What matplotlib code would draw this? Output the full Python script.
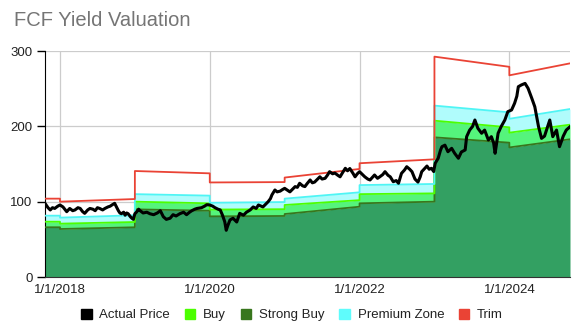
import matplotlib.pyplot as plt
from matplotlib.patches import Patch

plt.rcParams['font.family'] = ['Liberation Sans', 'DejaVu Sans']

# valuation bands, one segment per year (start value, end value)
edges = [2017.8, 2018.0, 2019.0, 2020.0, 2021.0, 2022.0, 2023.0, 2024.0, 2024.81]
trim_start = [104, 100, 140.7, 125.5, 132, 151, 292.5, 267.7]
trim_end = [104, 103.5, 137.6, 126, 143.4, 156.2, 279, 283.6]
premium_start = [81.4, 78.8, 110, 98.5, 104, 122, 227.5, 210]
premium_end = [81.4, 82, 108, 99.5, 112.4, 123.5, 218.6, 223]
buy_start = [73.4, 70.8, 100, 89.5, 95.6, 110, 207.5, 191.6]
buy_end = [73.4, 73, 97.8, 90, 102, 111, 198.7, 202.2]
strong_start = [66, 63.7, 89.8, 80.5, 83.6, 97.8, 185.4, 172]
strong_end = [66, 66, 88, 81, 93.3, 100, 178.3, 182.8]

# actual price (decimal year, price)
price_t = [2017.80, 2017.84, 2017.87, 2017.90, 2017.93, 2017.97, 2018.00, 2018.04, 2018.09,
           2018.13, 2018.17, 2018.20, 2018.24, 2018.27, 2018.30, 2018.33, 2018.37, 2018.40,
           2018.44, 2018.47, 2018.50, 2018.53, 2018.57, 2018.60, 2018.64, 2018.67, 2018.70,
           2018.73, 2018.76, 2018.78, 2018.80, 2018.82, 2018.85, 2018.87, 2018.89, 2018.91,
           2018.94, 2018.96, 2018.98, 2019.00, 2019.02, 2019.05, 2019.07, 2019.11, 2019.16,
           2019.20, 2019.25, 2019.30, 2019.34, 2019.38, 2019.42, 2019.47, 2019.51, 2019.55,
           2019.60, 2019.65, 2019.69, 2019.73, 2019.76, 2019.80, 2019.83, 2019.89, 2019.93,
           2019.96, 2020.00, 2020.04, 2020.07, 2020.11, 2020.14, 2020.17, 2020.20, 2020.22,
           2020.24, 2020.27, 2020.31, 2020.36, 2020.40, 2020.45, 2020.49, 2020.54, 2020.58,
           2020.62, 2020.65, 2020.71, 2020.75, 2020.78, 2020.81, 2020.83, 2020.87, 2020.90,
           2020.94, 2020.97, 2021.00, 2021.04, 2021.07, 2021.11, 2021.14, 2021.17, 2021.20,
           2021.24, 2021.27, 2021.30, 2021.34, 2021.37, 2021.40, 2021.44, 2021.47, 2021.50,
           2021.54, 2021.57, 2021.60, 2021.64, 2021.67, 2021.71, 2021.74, 2021.77, 2021.81,
           2021.84, 2021.87, 2021.91, 2021.94, 2021.97, 2022.00, 2022.04, 2022.07, 2022.11,
           2022.14, 2022.17, 2022.20, 2022.24, 2022.27, 2022.31, 2022.34, 2022.38, 2022.41,
           2022.45, 2022.49, 2022.52, 2022.56, 2022.60, 2022.63, 2022.67, 2022.70, 2022.74,
           2022.78, 2022.81, 2022.83, 2022.87, 2022.90, 2022.93, 2022.96, 2022.99, 2023.01,
           2023.05, 2023.08, 2023.10, 2023.14, 2023.18, 2023.23, 2023.27, 2023.32, 2023.36,
           2023.41, 2023.43, 2023.47, 2023.51, 2023.54, 2023.58, 2023.63, 2023.67, 2023.72,
           2023.76, 2023.79, 2023.81, 2023.85, 2023.89, 2023.94, 2023.98, 2024.03, 2024.07,
           2024.10, 2024.12, 2024.16, 2024.21, 2024.25, 2024.30, 2024.34, 2024.39, 2024.43,
           2024.47, 2024.50, 2024.54, 2024.58, 2024.63, 2024.67, 2024.72, 2024.76, 2024.81]
price_v = [97.8, 92, 89, 92, 91, 94, 95.6, 93, 86.7,
           91, 88, 89, 92, 91, 87, 84.5, 89, 91,
           90, 88, 92, 91, 89, 91, 93, 94, 96,
           97.8, 92, 88, 85, 84, 86, 82, 85, 84,
           80, 78, 76.5, 84, 86, 90, 88, 85, 86,
           84, 82.7, 85, 88, 80, 76.5, 78, 82.7, 81,
           84, 86, 82.7, 86, 88, 90, 91, 92, 94,
           96, 95.6, 94, 92, 90, 89, 82, 73.4, 62,
           68, 75.7, 78, 73, 84.5, 82, 86, 89, 93,
           91, 95.6, 93, 97, 100, 104, 109, 115.5, 113,
           114, 116, 117.7, 115, 113, 117, 120, 119, 124.4,
           121, 120, 124, 128.8, 125, 126, 130, 133, 130,
           131, 135, 139.8, 137, 138, 135, 133, 138, 144.3,
           141, 144, 138, 133, 137, 139.8, 136, 133, 130,
           128.8, 132, 135.4, 131, 133, 136, 139.8, 135, 133,
           126.5, 128, 124.4, 137.6, 142, 146.4, 143, 139.8, 130,
           126, 133, 139.8, 144, 147.3, 143, 144.3, 140, 151,
           157.6, 168, 173, 175, 166.3, 170.8, 164.2, 157.6, 166,
           168.6, 186.3, 195, 200, 208.4, 197.4, 190.8, 195, 181.9,
           186.3, 178, 164.2, 190.8, 199.5, 208.4, 219.5, 221.7, 230.6,
           240, 252.6, 254.9, 257, 250.5, 237.2, 226, 199.5, 184,
           187, 196, 208.4, 186.3, 195, 173, 187, 195, 199.5]


def steps(starts, ends):
    xs, ys = [], []
    for i in range(len(starts)):
        xs += [edges[i], edges[i + 1]]
        ys += [starts[i], ends[i]]
    return xs, ys


sx, sy = steps(strong_start, strong_end)
_, by = steps(buy_start, buy_end)
_, py = steps(premium_start, premium_end)
_, ty = steps(trim_start, trim_end)

fig = plt.figure(figsize=(5.84, 3.31), dpi=100)
ax = fig.add_axes([45 / 584, 1 - 277 / 331, 525 / 584, 226 / 331])

# zone fills
ax.fill_between(sx, 0, sy, color='#33a062', lw=0, zorder=2)
ax.fill_between(sx, sy, by, color='#55f47c', lw=0, zorder=2)
ax.fill_between(sx, by, py, color='#b0fcfc', lw=0, zorder=2)

ax.plot(sx, sy, color='#38761d', lw=1.3, zorder=3)
ax.plot(sx, by, color='#4cff00', lw=1.3, zorder=3)
ax.plot(sx, py, color='#4ff5f5', lw=1.3, zorder=3)
ax.plot(sx, ty, color='#ea4335', lw=1.3, zorder=3)
ax.plot(price_t, price_v, color='black', lw=2.2, zorder=4)

ax.set_xlim(edges[0], edges[-1])
ax.set_ylim(0, 300)
ax.set_xticks([2018, 2020, 2022, 2024])
ax.set_xticklabels(['1/1/2018', '1/1/2020', '1/1/2022', '1/1/2024'])
ax.set_yticks([0, 100, 200, 300])
ax.tick_params(axis='x', length=0, pad=5, labelsize=9.5, colors='#222222')
ax.tick_params(axis='y', length=6, width=1, pad=3, labelsize=9.5, labelcolor='#222222')
ax.grid(True, color='#cccccc', lw=0.9, zorder=0)
ax.set_axisbelow(True)
for s in ['top', 'right']:
    ax.spines[s].set_visible(False)
ax.spines['left'].set_color('black')
ax.spines['bottom'].set_color('#333333')

fig.text(14 / 584, 1 - 20 / 331, 'FCF Yield Valuation', fontsize=14.5, color='#757575', va='center')

handles = [Patch(color='black'), Patch(color='#4cff00'), Patch(color='#38761d'),
           Patch(color='#5ffcfc'), Patch(color='#ea4335')]
labels = ['Actual Price', 'Buy', 'Strong Buy', 'Premium Zone', 'Trim']
fig.legend(handles, labels, loc='center', bbox_to_anchor=(0.5, 1 - 315 / 331), ncol=5,
           frameon=False, handlelength=0.8, handleheight=0.8, handletextpad=0.6,
           columnspacing=1.1, fontsize=9.5, labelcolor='#222222')

fig.savefig('out.png', dpi=100)
